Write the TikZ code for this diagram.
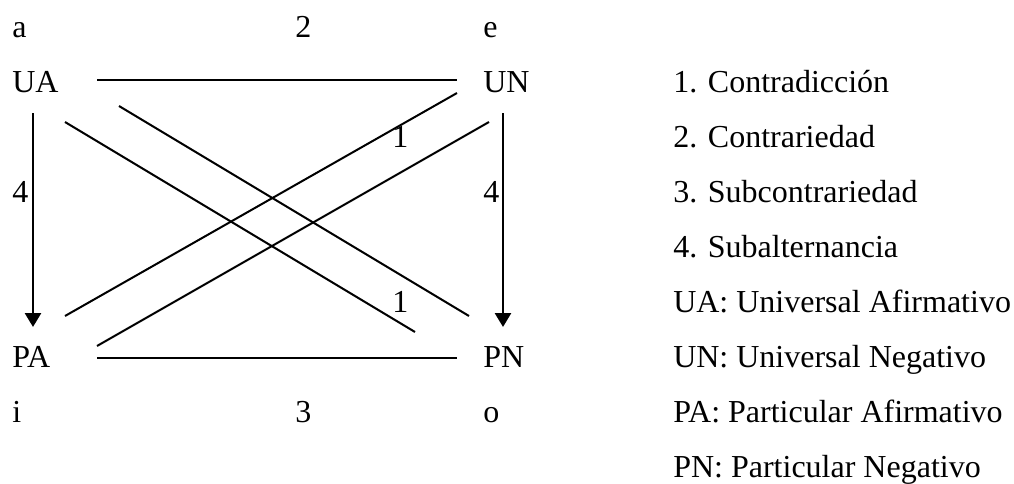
\documentclass[tikz,border=0pt]{standalone}
\usepackage{fontspec}
\setmainfont{Liberation Serif}
\usetikzlibrary{arrows.meta}
\begin{document}
\begin{tikzpicture}[x=0.75pt,y=-0.75pt,
  txt/.style={anchor=base west,inner sep=0pt,font=\fontsize{24}{28}\selectfont},
  conn/.style={line width=1.5pt},
  subarrow/.style={line width=2pt,-{Triangle[length=10.5pt,width=12pt]}}]
\useasboundingbox (0,0) rectangle (1014,483);
% left diagram labels
\node[txt] (a)  at (12,37)  {a};
\node[txt] (l2) at (295,37) {2};
\node[txt] (e)  at (483,37) {e};
\node[txt] (UA) at (12,92)  {UA};
\node[txt] (UN) at (483,92) {UN};
\node[txt] (l1a) at (392,147) {1};
\node[txt] (l4a) at (12,202) {4};
\node[txt] (l4b) at (483,202) {4};
\node[txt] (l1b) at (392,312) {1};
\node[txt] (PA) at (12,367) {PA};
\node[txt] (PN) at (483,367) {PN};
\node[txt] (i)  at (12,422) {i};
\node[txt] (l3) at (295,422) {3};
\node[txt] (o)  at (483,422) {o};
% legend
\node[txt] (g1) at (673,92)  {1. Contradicción};
\node[txt] (g2) at (673,147) {2. Contrariedad};
\node[txt] (g3) at (673,202) {3. Subcontrariedad};
\node[txt] (g4) at (673,257) {4. Subalternancia};
\node[txt] (g5) at (673,312) {UA: Universal Afirmativo};
\node[txt] (g6) at (673,367) {UN: Universal Negativo};
\node[txt] (g7) at (673,422) {PA: Particular Afirmativo};
\node[txt] (g8) at (673,477) {PN: Particular Negativo};
% connector end points
\coordinate (topL) at (97,80);
\coordinate (topR) at (457,80);
\coordinate (botL) at (97,358);
\coordinate (botR) at (457,358);
\coordinate (vLt) at (33,113);
\coordinate (vLb) at (33,327);
\coordinate (vRt) at (503,113);
\coordinate (vRb) at (503,327);
\coordinate (dA1) at (65,122);
\coordinate (dA2) at (415,332);
\coordinate (dB1) at (119,106);
\coordinate (dB2) at (469,316);
\coordinate (dC1) at (457,93);
\coordinate (dC2) at (65,316);
\coordinate (dD1) at (489,122);
\coordinate (dD2) at (97,346);
% connectors
\draw[conn] (topL) -- (topR);
\draw[conn] (botL) -- (botR);
\draw[conn] (dA1) -- (dA2);
\draw[conn] (dB1) -- (dB2);
\draw[conn] (dC1) -- (dC2);
\draw[conn] (dD1) -- (dD2);
\draw[subarrow] (vLt) -- (vLb);
\draw[subarrow] (vRt) -- (vRb);
\end{tikzpicture}
\end{document}
